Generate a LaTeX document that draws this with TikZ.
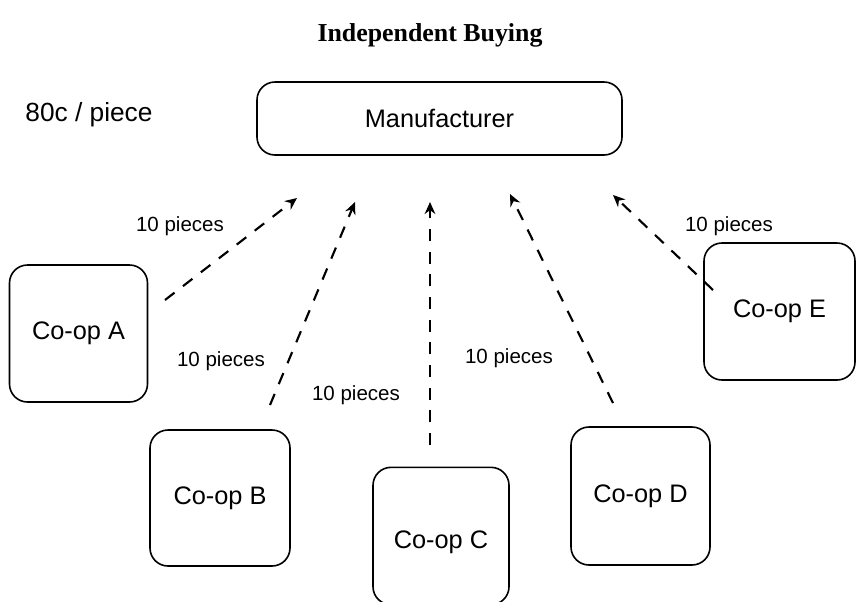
\documentclass[tikz,border=0pt]{standalone}
\usepackage{fontspec}
\setmainfont{Liberation Serif}
\setsansfont{Liberation Sans}
\usetikzlibrary{arrows.meta}
\begin{document}
\begin{tikzpicture}[x=0.75pt,y=-0.75pt,
  box/.style={draw,line width=1.2pt,rounded corners=13.5pt,font=\sffamily\fontsize{19}{22}\selectfont,inner sep=0pt},
  qty/.style={font=\sffamily\fontsize{15.4}{18}\selectfont,inner sep=0pt},
  order/.style={line width=1.6pt,dash pattern=on 9pt off 8pt,-{Stealth[length=9pt,width=8pt]}}]
\useasboundingbox (0,0) rectangle (860,601);

% title and unit price
\node[font=\bfseries\fontsize{19.4}{22}\selectfont] (title) at (430,35) {Independent Buying};
\node[font=\sffamily\fontsize{19.7}{22}\selectfont] (price) at (89,115) {80c / piece};

% manufacturer and the five co-ops
\node[box,minimum width=273.75pt,minimum height=54.75pt] (M) at (439.5,118.5) {Manufacturer};
\node[box,minimum width=103.5pt,minimum height=102.75pt] (A) at (78.5,333.5) {Co-op A};
\node[box,minimum width=105pt,minimum height=102pt] (B) at (220,498) {Co-op B};
\node[box,minimum width=102pt,minimum height=103pt] (C) at (441,536) {\raisebox{0pt}[\dimexpr\height+10pt\relax][\depth]{Co-op C}};
\node[box,minimum width=104.25pt,minimum height=103.5pt] (D) at (640.5,496) {Co-op D};
\node[box,minimum width=113.25pt,minimum height=102.75pt] (E) at (779.5,311.5) {Co-op E};

% end points of the order arrows
\coordinate (a0) at (165,300);  \coordinate (a1) at (297,198);
\coordinate (b0) at (270,405);  \coordinate (b1) at (355,202);
\coordinate (c0) at (430,445);  \coordinate (c1) at (430,202);
\coordinate (d0) at (613,403);  \coordinate (d1) at (510,194);
\coordinate (e0) at (713,290);  \coordinate (e1) at (613,195);

\draw[order] (a0) -- (a1);
\draw[order] (b0) -- (b1);
\draw[order] (c0) -- (c1);
\draw[order] (d0) -- (d1);
\draw[order] (e0) -- (e1);

% quantities ordered
\node[qty] (qa) at (180,226) {10 pieces};
\node[qty] (qb) at (221,361) {10 pieces};
\node[qty] (qc) at (356,395) {10 pieces};
\node[qty] (qd) at (509,358) {10 pieces};
\node[qty] (qe) at (729,226) {10 pieces};
\end{tikzpicture}
\end{document}
